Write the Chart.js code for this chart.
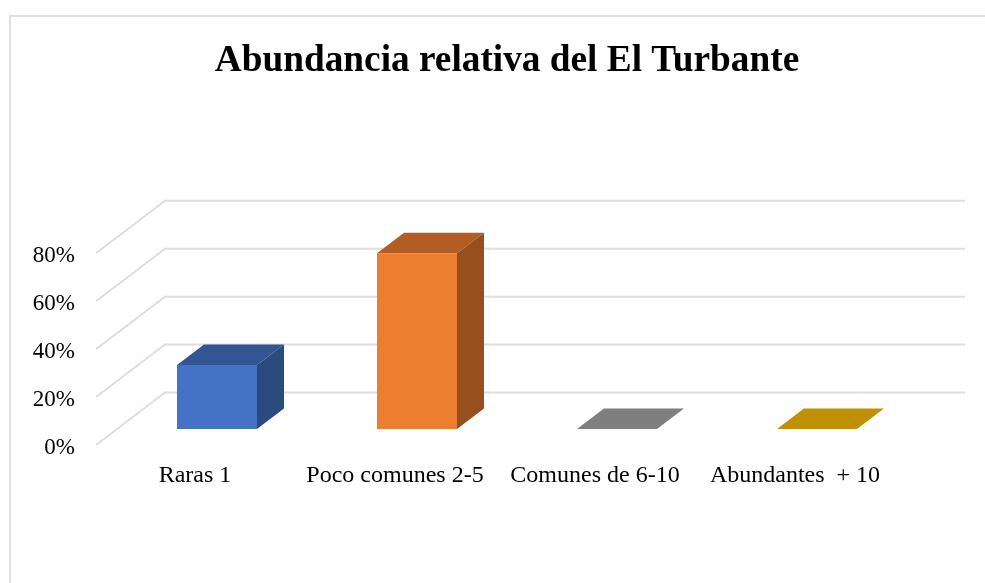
<!DOCTYPE html>
<html>
<head>
<meta charset="utf-8">
<title>Abundancia relativa</title>
<script src="https://cdn.jsdelivr.net/npm/chart.js@4"></script>
<style>
    html, body { margin: 0; background: #fff; overflow: hidden; }
    #frame { position: absolute; left: 9px; top: 15px; width: 976px; height: 568px; border-left: 2px solid #e0e0e0; border-top: 2px solid #e0e0e0; box-sizing: border-box; }
    #chart { position: absolute; left: 0; top: 0; }
</style>
</head>
<body>
<div id="frame"></div>
<canvas id="chart" width="985" height="583"></canvas>
<script>
const categories = ['Raras 1', 'Poco comunes 2-5', 'Comunes de 6-10', 'Abundantes  + 10'];
const values = [26.67, 73.33, 0, 0];
const yTicks = [0, 20, 40, 60, 80];

const frontColors = ['#4472C4', '#ED7D31', '#A5A5A5', '#FFC000'];
const topColors = ['#335593', '#B25D24', '#7F7F7F', '#BF9000'];
const sideColors = ['#2B4A80', '#984F1E', '#636363', '#987200'];

const serif = '"Liberation Serif", "Times New Roman", serif';

// Fake 3D: back wall offset from the axis plane, and bar depth
const wall = { dx: 69, dy: -52.5, right: 965 };
const barShift = { dx: 21, dy: -16 };
const depth = { dx: 27, dy: -20.5 };

function face(ctx, color, pts) {
    ctx.fillStyle = color;
    ctx.beginPath();
    pts.forEach((p, i) => i ? ctx.lineTo(p[0], p[1]) : ctx.moveTo(p[0], p[1]));
    ctx.closePath();
    ctx.fill();
}

const fake3d = {
    id: 'fake3d',
    afterLayout(chart) {
        // title is centred on the plot plus its depth, not on the canvas
        chart.titleBlock.left += 118;
    },
    beforeDatasetsDraw(chart) {
        const ctx = chart.ctx;
        const x0 = chart.chartArea.left;
        const yScale = chart.scales.y;

        // floor and wall lines
        ctx.save();
        ctx.strokeStyle = '#dedede';
        ctx.lineWidth = 2;
        yTicks.forEach(v => {
            const y = yScale.getPixelForValue(v);
            ctx.beginPath();
            ctx.moveTo(x0, y);
            ctx.lineTo(x0 + wall.dx, y + wall.dy);
            ctx.lineTo(wall.right, y + wall.dy);
            ctx.stroke();
        });
        ctx.restore();

        // bars sit in the middle of the floor
        ctx.save();
        ctx.translate(barShift.dx, barShift.dy);
        chart.getDatasetMeta(0).data.forEach((bar, i) => {
            const p = bar.getProps(['x', 'y', 'base', 'width'], true);
            const l = p.x - p.width / 2;
            const r = p.x + p.width / 2;
            face(ctx, topColors[i], [[l, p.y], [r, p.y], [r + depth.dx, p.y + depth.dy], [l + depth.dx, p.y + depth.dy]]);
            if (values[i] > 0) {
                face(ctx, sideColors[i], [[r, p.y], [r + depth.dx, p.y + depth.dy], [r + depth.dx, p.base + depth.dy], [r, p.base]]);
            }
        });
    },
    afterDatasetsDraw(chart) {
        chart.ctx.restore();
    }
};

new Chart(document.getElementById('chart'), {
    type: 'bar',
    data: {
        labels: categories,
        datasets: [{
            data: values,
            backgroundColor: frontColors,
            borderWidth: 0,
            clip: false,
            categoryPercentage: 1,
            barPercentage: 0.4
        }]
    },
    options: {
        responsive: false,
        animation: false,
        layout: { padding: { left: 0, right: 89, top: 0, bottom: 0 } },
        plugins: {
            legend: { display: false },
            tooltip: { enabled: false },
            title: {
                display: true,
                text: 'Abundancia relativa del El Turbante',
                color: '#000',
                font: { family: serif, size: 37.3, weight: 'bold' },
                padding: { top: 39, bottom: 169.5 }
            }
        },
        scales: {
            x: {
                grid: { display: false },
                border: { display: false },
                afterFit: s => { s.height = 138; },
                ticks: {
                    color: '#000',
                    font: { family: serif, size: 24 },
                    padding: 8,
                    labelOffset: -1,
                    maxRotation: 0,
                    autoSkip: false
                }
            },
            y: {
                min: 0,
                max: 80,
                grid: { display: false },
                border: { display: false },
                afterFit: s => { s.width = 96; },
                ticks: {
                    stepSize: 20,
                    color: '#000',
                    font: { family: serif, size: 23 },
                    padding: 13,
                    labelOffset: 3,
                    callback: v => v + '%'
                }
            }
        }
    },
    plugins: [fake3d]
});
</script>
</body>
</html>
